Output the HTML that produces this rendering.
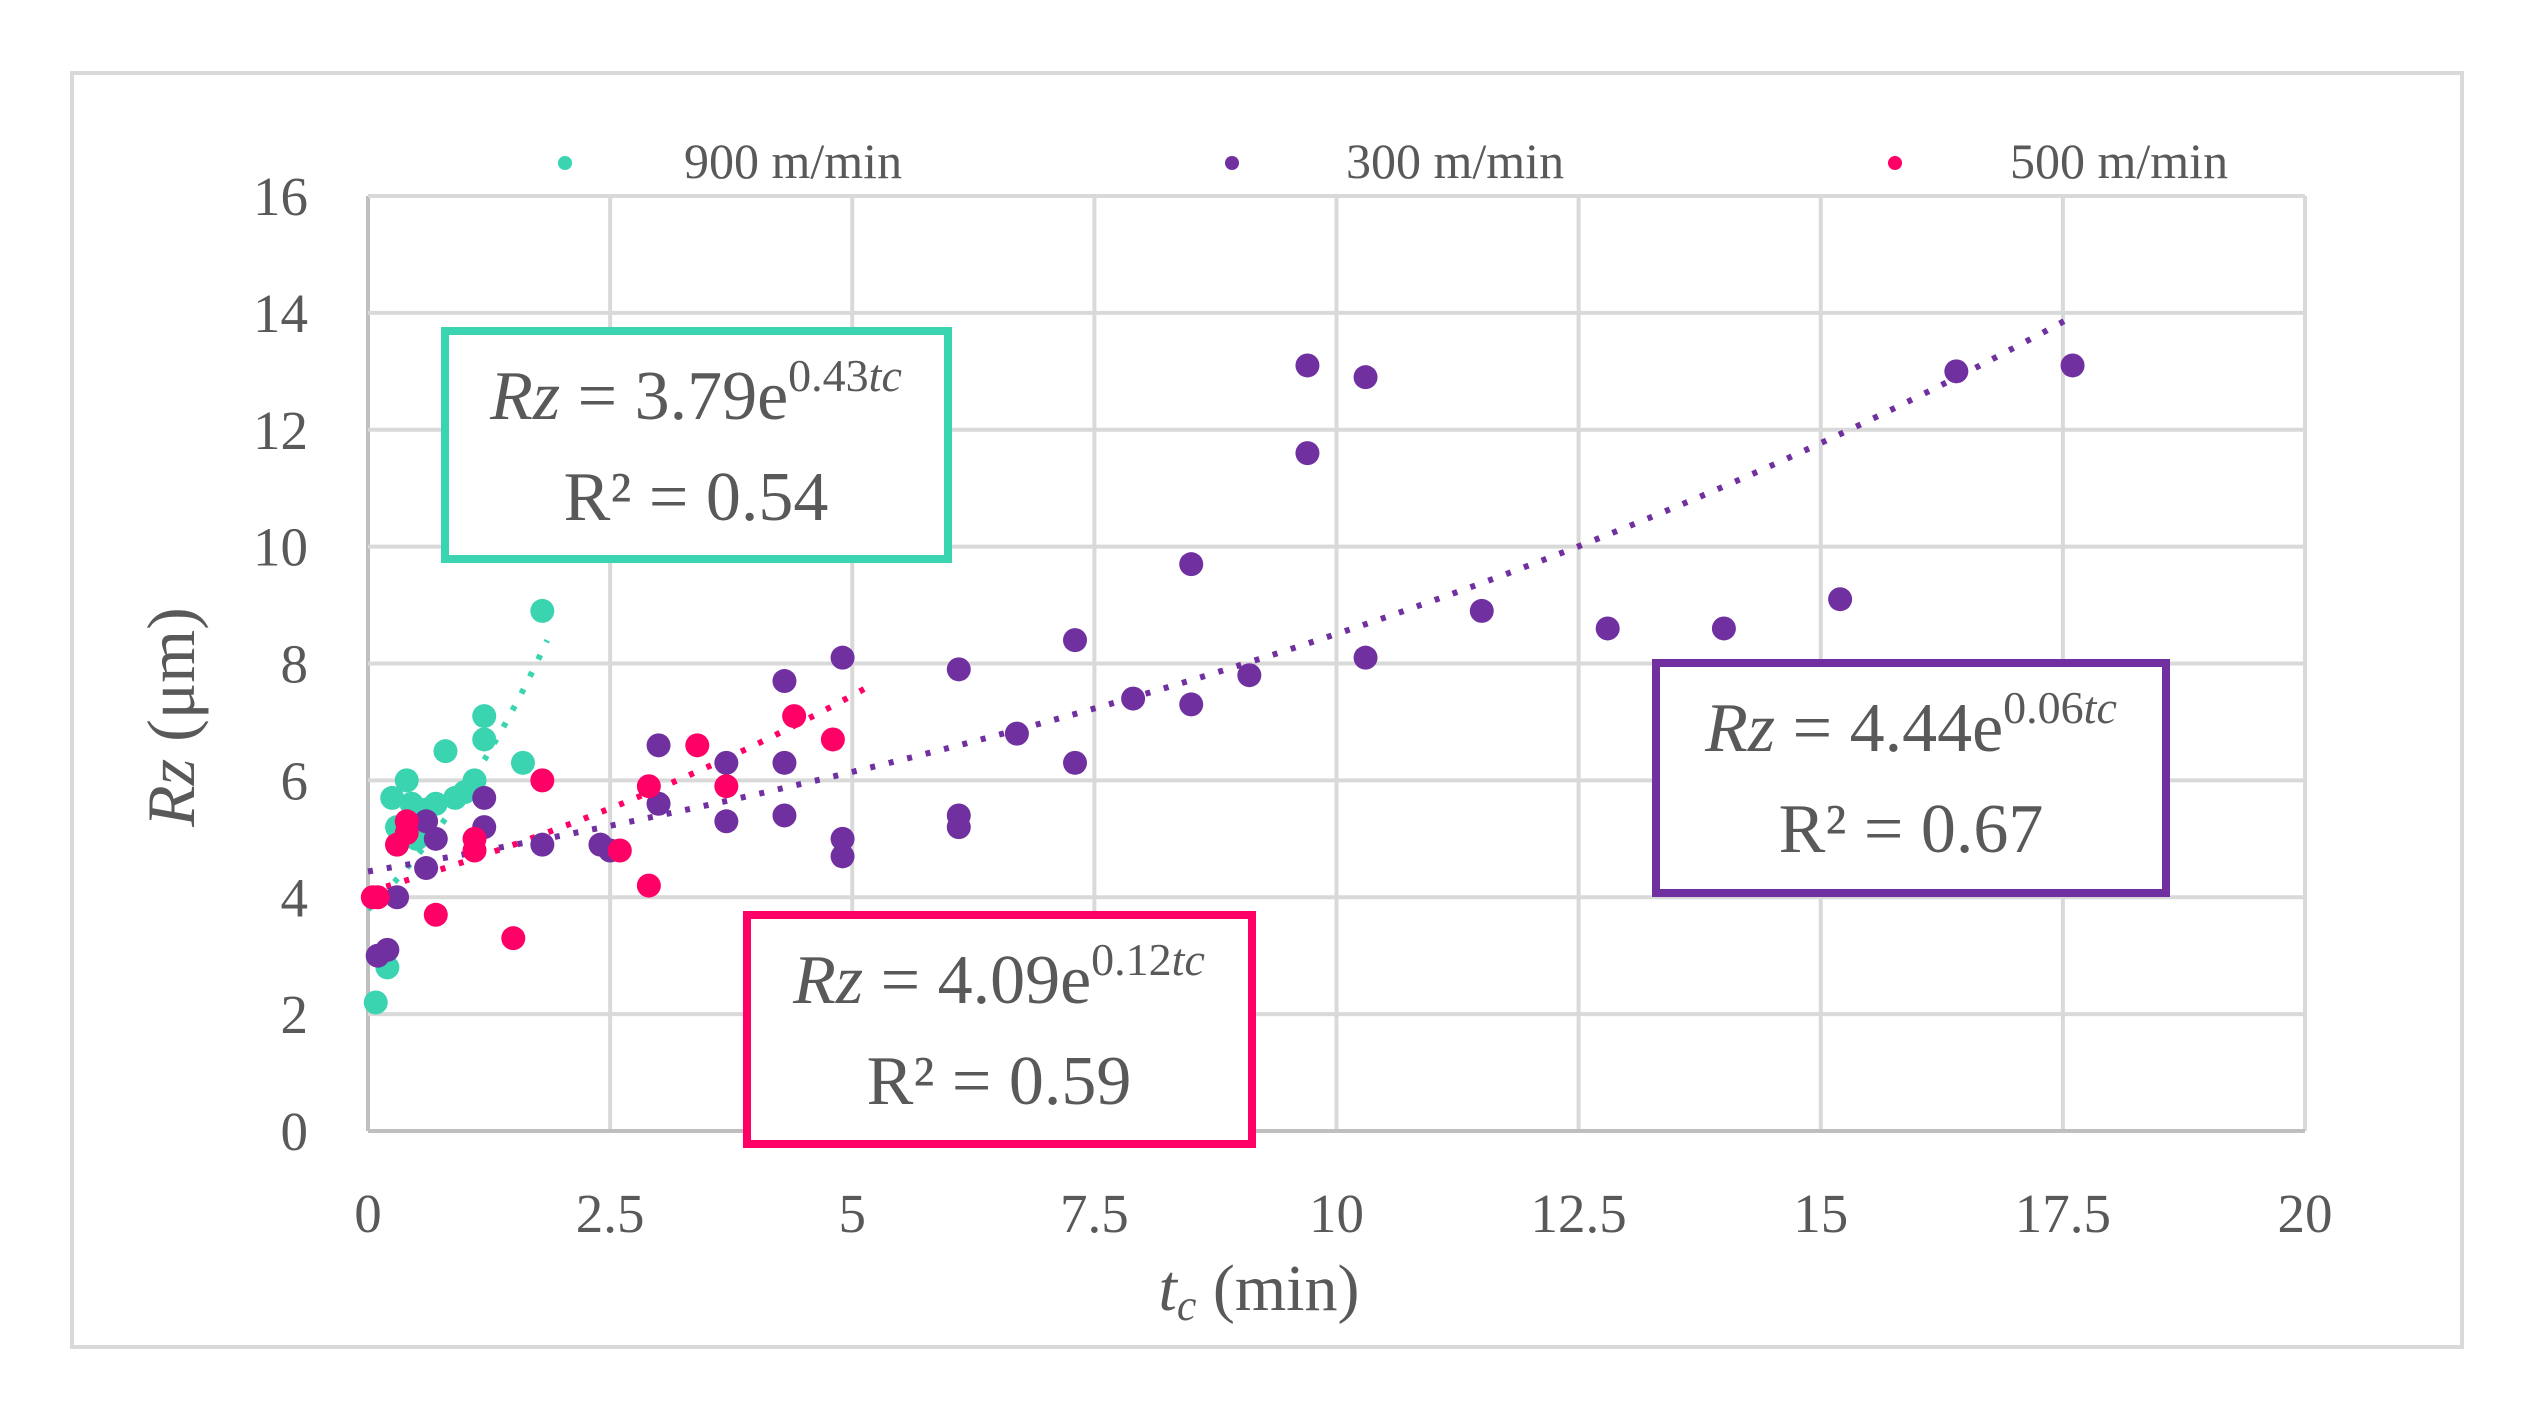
<!DOCTYPE html>
<html><head><meta charset="utf-8"><style>
html,body{margin:0;padding:0;background:#fff}
svg{display:block}
text{font-family:"Liberation Serif",serif;fill:#595959}
</style></head><body>
<svg id="chart" width="2541" height="1419" viewBox="0 0 2541 1419">
<rect x="72" y="73" width="2390" height="1274" fill="#fff" stroke="#d9d9d9" stroke-width="4"/>
<g id="grid"></g>
<g id="ticks"></g>
<g id="trends"></g>
<g id="points"></g>
<g>
 <g><circle cx="565" cy="163" r="7" fill="#3ad4b0"/><text x="684" y="178" font-size="50">900 m/min</text></g>
 <g><circle cx="1232" cy="163" r="7" fill="#7030a0"/><text x="1346" y="178" font-size="50">300 m/min</text></g>
 <g><circle cx="1895" cy="163" r="7" fill="#ff0066"/><text x="2010" y="178" font-size="50">500 m/min</text></g>
</g>
<text x="1259" y="1310" font-size="66" text-anchor="middle"><tspan font-style="italic">t</tspan><tspan font-style="italic" font-size="44" dy="10">c</tspan><tspan dy="-10"> (min)</tspan></text>
<text transform="translate(194,717) rotate(-90)" font-size="68" text-anchor="middle"><tspan font-style="italic">Rz</tspan> (μm)</text>
<g>
 <rect x="445" y="331" width="503" height="228" fill="#fff" stroke="#3ad4b0" stroke-width="8"/>
 <text x="696" y="419" font-size="70" text-anchor="middle"><tspan font-style="italic">Rz</tspan> = 3.79e<tspan font-size="46" dy="-28">0.43</tspan><tspan font-size="46" font-style="italic">tc</tspan></text>
 <text x="696" y="520" font-size="70" text-anchor="middle">R² = 0.54</text>
</g>
<g>
 <rect x="747" y="915" width="505" height="229" fill="#fff" stroke="#ff0066" stroke-width="8"/>
 <text x="999" y="1003" font-size="70" text-anchor="middle"><tspan font-style="italic">Rz</tspan> = 4.09e<tspan font-size="46" dy="-28">0.12</tspan><tspan font-size="46" font-style="italic">tc</tspan></text>
 <text x="999" y="1104" font-size="70" text-anchor="middle">R² = 0.59</text>
</g>
<g>
 <rect x="1656" y="663" width="510" height="230" fill="#fff" stroke="#7030a0" stroke-width="8"/>
 <text x="1911" y="751" font-size="70" text-anchor="middle"><tspan font-style="italic">Rz</tspan> = 4.44e<tspan font-size="46" dy="-28">0.06</tspan><tspan font-size="46" font-style="italic">tc</tspan></text>
 <text x="1911" y="852" font-size="70" text-anchor="middle">R² = 0.67</text>
</g>
</svg>
<script>
const xTicks=[0,2.5,5,7.5,10,12.5,15,17.5,20];
const xTickLabels=["0","2.5","5","7.5","10","12.5","15","17.5","20"];
const yTicks=[0,2,4,6,8,10,12,14,16];
const yTickLabels=["0","2","4","6","8","10","12","14","16"];
const g900x=[0.08,0.2,0.25,0.3,0.4,0.5,0.6,0.7,0.8,0.9,1.0,1.1,1.2,1.2,1.6,1.8,0.3,0.5,0.15,0.45];
const g900y=[2.2,2.8,5.7,5.2,6.0,5.0,5.5,5.6,6.5,5.7,5.8,6.0,7.1,6.7,6.3,8.9,4.9,5.3,3.0,5.6];
const g300x=[0.1,0.2,0.3,0.6,0.6,0.7,1.2,1.2,1.8,2.4,2.5,3.0,3.0,3.7,3.7,4.3,4.3,4.3,4.9,4.9,4.9,6.1,6.1,6.1,6.7,7.3,7.3,7.9,8.5,8.5,9.1,9.7,9.7,10.3,10.3,11.5,12.8,14.0,15.2,16.4,17.6];
const g300y=[3.0,3.1,4.0,4.5,5.3,5.0,5.7,5.2,4.9,4.9,4.8,6.6,5.6,5.3,6.3,7.7,6.3,5.4,8.1,5.0,4.7,7.9,5.4,5.2,6.8,8.4,6.3,7.4,9.7,7.3,7.8,13.1,11.6,12.9,8.1,8.9,8.6,8.6,9.1,13.0,13.1];
const g500x=[0.05,0.3,0.4,0.4,0.7,1.1,1.1,1.5,1.8,2.6,2.9,2.9,3.4,3.7,4.4,4.8,0.1];
const g500y=[4.0,4.9,5.3,5.1,3.7,5.0,4.8,3.3,6.0,4.8,4.2,5.9,6.6,5.9,7.1,6.7,4.0];
const trendA=[3.79,4.44,4.09];
const trendB=[0.43,0.065,0.12];
const trendMax=[1.85,17.6,5.2];
const seriesColors=["#3ad4b0","#7030a0","#ff0066"];
const NS="http://www.w3.org/2000/svg";
const L=368,R=2305,T=196,B=1131;
const sx=v=>L+(v/20)*(R-L);
const sy=v=>B-(v/16)*(B-T);
function mk(tag,attrs,parent){const e=document.createElementNS(NS,tag);for(const k in attrs)e.setAttribute(k,attrs[k]);parent.appendChild(e);return e;}
const grid=document.getElementById('grid'),ticks=document.getElementById('ticks');
xTicks.forEach((v,i)=>{
 const ln=mk('line',{x1:sx(v),x2:sx(v),y1:T,y2:B,stroke:i===0?'#bfbfbf':'#d9d9d9','stroke-width':4},grid);
 
 
 const t=mk('text',{x:sx(v),y:1232,'font-size':55,'text-anchor':'middle'},ticks);t.textContent=xTickLabels[i];
 
 
});
yTicks.forEach((v,i)=>{
 const ln=mk('line',{x1:L,x2:R,y1:sy(v),y2:sy(v),stroke:i===0?'#bfbfbf':'#d9d9d9','stroke-width':4},grid);
 
 
 const t=mk('text',{x:308,y:sy(v)+19,'font-size':55,'text-anchor':'end'},ticks);t.textContent=yTickLabels[i];
 
 
});
const trends=document.getElementById('trends');
[0,1,2].forEach(s=>{
 let d='';const n=60;
 for(let k=0;k<=n;k++){const x=trendMax[s]*k/n;const y=trendA[s]*Math.exp(trendB[s]*x);d+=(k?'L':'M')+sx(x).toFixed(1)+','+sy(y).toFixed(1);}
 const p=mk('path',{d:d,fill:'none',stroke:seriesColors[s],'stroke-width':6,'stroke-dasharray':'5 14'},trends);
 
 
});
const pts=document.getElementById('points');
[[g900x,g900y],[g300x,g300y],[g500x,g500y]].forEach((sr,s)=>{
 sr[0].forEach((x,i)=>{
  const c=mk('circle',{cx:sx(x),cy:sy(sr[1][i]),r:12,fill:seriesColors[s]},pts);
  
  
 });
});
</script>
</body></html>
